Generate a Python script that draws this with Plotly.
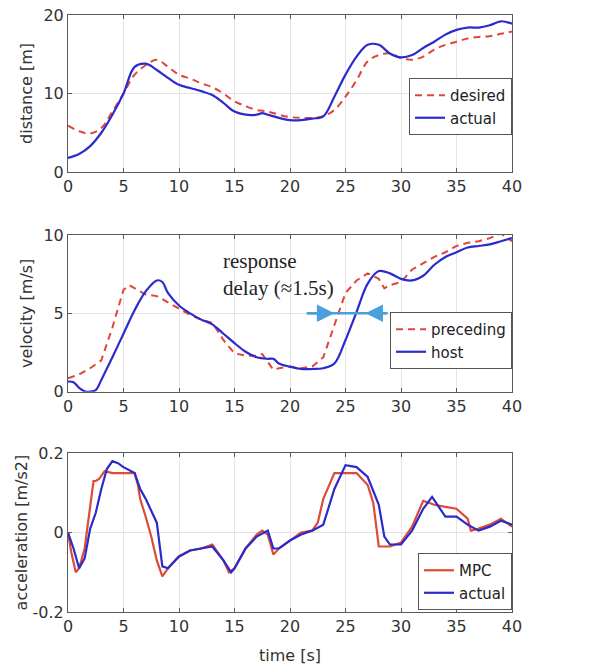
import plotly.graph_objects as go

# ---------------- data ----------------
t_dist = [0, 1, 2, 3, 4, 5, 6, 7, 8, 9, 10, 11, 12, 13, 14, 15, 16, 17, 17.5, 18, 19, 20,
          21, 22, 23, 24, 25, 26, 27, 28, 29, 30, 31, 32, 33, 34, 35, 36, 37, 38, 39, 40]
dist_actual = [1.8, 2.3, 3.3, 5.0, 7.3, 10.0, 13.4, 13.8, 13.0, 12.0, 11.1, 10.7, 10.3, 9.8,
               8.8, 7.7, 7.3, 7.3, 7.5, 7.3, 6.9, 6.6, 6.6, 6.8, 7.1, 9.6, 12.4, 14.7, 16.2,
               16.2, 15.1, 14.6, 14.9, 15.8, 16.6, 17.5, 18.1, 18.4, 18.4, 18.7, 19.2, 18.9]
t_des = [0, 1, 2, 3, 4, 5, 6, 7, 8, 9, 10, 11, 12, 13, 14, 15, 16, 17, 18, 19, 20,
         21, 22, 23, 24, 25, 26, 27, 28, 29, 30, 31, 32, 33, 34, 35, 36, 37, 38, 39, 40]
dist_desired = [5.9, 5.2, 4.9, 5.6, 7.7, 10.0, 12.4, 13.6, 14.3, 13.4, 12.4, 11.9, 11.3, 10.8,
                10.0, 9.0, 8.4, 7.9, 7.7, 7.3, 7.0, 6.9, 6.9, 7.1, 7.9, 9.6, 11.7, 14.1, 14.9,
                15.1, 14.5, 14.3, 14.7, 15.6, 16.2, 16.6, 17.0, 17.2, 17.3, 17.6, 17.9]

t_host = [0, 0.5, 1, 1.5, 2, 2.5, 3, 4, 5, 6, 7, 8, 8.5, 9, 10, 11, 12, 13, 14, 15, 16, 17,
          18, 18.5, 19, 20, 21, 22, 23, 24, 25, 26, 27, 28, 29, 30, 31, 32, 33, 34, 35, 36,
          37, 38, 39, 40]
vel_host = [0.65, 0.6, 0.25, 0.03, 0.0, 0.1, 0.75, 2.2, 3.7, 5.2, 6.4, 7.1, 7.0, 6.3, 5.5,
            5.0, 4.6, 4.3, 3.7, 3.1, 2.55, 2.2, 2.1, 2.1, 1.8, 1.6, 1.45, 1.45, 1.5, 1.8, 3.3,
            5.1, 6.9, 7.7, 7.55, 7.2, 7.1, 7.4, 8.1, 8.6, 8.9, 9.2, 9.3, 9.4, 9.6, 9.8]
t_prec = [0, 1, 2, 3, 4, 5, 5.5, 6, 7, 8, 9, 10, 11, 12, 13, 14, 15, 16, 17, 17.5, 18,
          18.5, 19, 20, 21, 22, 23, 24, 25, 26, 27, 28, 28.5, 29, 30, 31, 32, 33, 34, 35,
          36, 37, 38, 39, 40]
vel_prec = [0.85, 1.1, 1.5, 2.0, 4.1, 6.5, 6.8, 6.6, 6.2, 6.1, 5.7, 5.3, 4.9, 4.6, 4.4, 3.3,
            2.45, 2.3, 2.3, 2.4, 1.9, 1.4, 1.5, 1.6, 1.5, 1.6, 2.2, 4.3, 6.3, 7.1, 7.55, 7.2,
            6.6, 6.8, 7.0, 7.8, 8.2, 8.6, 8.9, 9.3, 9.5, 9.6, 9.8, 10.1, 9.6]

t_mpc = [0, 0.3, 0.7, 1, 1.5, 2, 2.3, 2.5, 2.8, 3.3, 4, 5, 6, 6.3, 6.5, 7, 7.5, 8, 8.5, 9,
         10, 11, 12, 13, 14, 14.5, 15, 16, 17, 17.5, 18, 18.5, 19, 20, 21, 22, 22.5, 23,
         24, 25, 26, 27, 27.5, 28, 29, 30, 31, 32, 33, 34, 35, 36, 36.3, 37, 38, 39, 40]
acc_mpc = [0.0, -0.05, -0.1, -0.09, -0.04, 0.06, 0.13, 0.13, 0.135, 0.155, 0.15, 0.15, 0.15,
           0.12, 0.085, 0.04, -0.01, -0.07, -0.11, -0.09, -0.06, -0.045, -0.04, -0.03,
           -0.07, -0.1, -0.09, -0.04, -0.005, 0.005, -0.005, -0.055, -0.04, -0.02, 0.0,
           0.005, 0.025, 0.085, 0.15, 0.15, 0.15, 0.12, 0.075, -0.035, -0.035, -0.025,
           0.015, 0.08, 0.07, 0.065, 0.06, 0.035, 0.005, 0.01, 0.02, 0.035, 0.015]
t_act = [0, 0.5, 1, 1.5, 2, 2.5, 3, 3.5, 4, 4.5, 5, 6, 6.5, 7, 8, 8.5, 9, 10, 11, 12, 13,
         14, 14.7, 15, 16, 17, 18, 18.5, 19, 20, 21, 22, 23, 24, 25, 26, 27, 28, 28.5, 29,
         30, 31, 32, 32.8, 33.5, 34, 35, 36, 37, 38, 39, 40]
acc_act = [0.0, -0.04, -0.09, -0.065, 0.01, 0.05, 0.11, 0.16, 0.18, 0.175, 0.165, 0.15,
           0.11, 0.085, 0.025, -0.085, -0.09, -0.06, -0.045, -0.04, -0.035, -0.07, -0.1,
           -0.09, -0.04, -0.01, 0.005, -0.04, -0.04, -0.02, -0.005, 0.005, 0.02, 0.11, 0.17,
           0.165, 0.14, 0.07, -0.01, -0.03, -0.03, 0.005, 0.06, 0.09, 0.06, 0.04, 0.04,
           0.02, 0.005, 0.015, 0.03, 0.02]

x_ticks = [0, 5, 10, 15, 20, 25, 30, 35, 40]
acc_ticks = [-0.2, 0, 0.2]
acc_ticktext = ["-0.2", "0", "0.2"]

BLUE = "#2b2bcc"
RED_D = "#e0453c"
RED = "#dd4a35"
FONT = "DejaVu Sans"

fig = go.Figure()
fig.add_trace(go.Scatter(x=t_des, y=dist_desired, name="desired", mode="lines",
                         line=dict(color=RED_D, width=2, dash="7px,5px", shape="spline"),
                         xaxis="x", yaxis="y", legend="legend"))
fig.add_trace(go.Scatter(x=t_dist, y=dist_actual, name="actual", mode="lines",
                         line=dict(color=BLUE, width=2.2, shape="spline"),
                         xaxis="x", yaxis="y", legend="legend"))
fig.add_trace(go.Scatter(x=t_prec, y=vel_prec, name="preceding", mode="lines",
                         line=dict(color=RED_D, width=2, dash="7px,5px"),
                         xaxis="x2", yaxis="y2", legend="legend2"))
fig.add_trace(go.Scatter(x=t_host, y=vel_host, name="host", mode="lines",
                         line=dict(color=BLUE, width=2.2, shape="spline"),
                         xaxis="x2", yaxis="y2", legend="legend2"))
fig.add_trace(go.Scatter(x=t_mpc, y=acc_mpc, name="MPC", mode="lines",
                         line=dict(color=RED, width=2.2),
                         xaxis="x3", yaxis="y3", legend="legend3"))
fig.add_trace(go.Scatter(x=t_act, y=acc_act, name="actual", mode="lines",
                         line=dict(color=BLUE, width=2.2),
                         xaxis="x3", yaxis="y3", legend="legend3"))

axis_common = dict(showgrid=True, gridcolor="#e4e4e4", gridwidth=1, showline=True,
                   linecolor="#5a5a5a", linewidth=1, mirror="ticks", ticks="inside",
                   ticklen=4, tickcolor="#5a5a5a", zeroline=False, automargin=False,
                   ticklabeloverflow="allow",
                   tickfont=dict(family=FONT, size=16, color="#333"))
xcommon = dict(axis_common, range=[0, 40], tickvals=x_ticks)
title_font = dict(family=FONT, size=16, color="#333")

legend_common = dict(bgcolor="white", bordercolor="#555", borderwidth=1,
                     font=dict(family=FONT, size=15, color="#222"),
                     xanchor="right", x=1, yanchor="top", itemwidth=30,
                     tracegroupgap=0)

fig.update_layout(
    width=593, height=671,
    margin=dict(l=68, r=81, t=15, b=59, autoexpand=False),
    paper_bgcolor="white", plot_bgcolor="white",
    showlegend=True,
    xaxis=dict(xcommon, domain=[0, 1], anchor="y"),
    xaxis2=dict(xcommon, domain=[0, 1], anchor="y2"),
    xaxis3=dict(xcommon, domain=[0, 1], anchor="y3",
                title=dict(text="time [s]", font=title_font, standoff=14)),
    yaxis=dict(axis_common, domain=[0.737, 1.0], range=[0, 20], tickvals=[0, 10, 20],
               anchor="x", title=dict(text="distance [m]", font=title_font, standoff=6)),
    yaxis2=dict(axis_common, domain=[0.369, 0.6315], range=[0, 10], tickvals=[0, 5, 10],
                anchor="x2", title=dict(text="velocity [m/s]", font=title_font, standoff=6)),
    yaxis3=dict(axis_common, domain=[0.0, 0.266], range=[-0.2, 0.2], tickvals=acc_ticks,
                ticktext=acc_ticktext, anchor="x3",
                title=dict(text="acceleration [m/s2]", font=title_font, standoff=0)),
    legend=dict(legend_common, y=0.8945),
    legend2=dict(legend_common, y=0.5025),
    legend3=dict(legend_common, y=0.0988),
)

# response delay annotation
ARROW_COLOR = "#4a9fdc"
delay_y = 5
fig.add_shape(type="line", xref="x2", yref="y2", x0=21.5, x1=28.8, y0=delay_y, y1=delay_y,
              line=dict(color=ARROW_COLOR, width=2.5))
fig.add_annotation(xref="x2", yref="y2", axref="x2", ayref="y2", x=24.0, y=delay_y,
                   ax=21.5, ay=delay_y, text="", showarrow=True, arrowhead=2,
                   arrowsize=1.4, arrowwidth=2.5, arrowcolor=ARROW_COLOR)
fig.add_annotation(xref="x2", yref="y2", axref="x2", ayref="y2", x=26.8, y=delay_y,
                   ax=28.8, ay=delay_y, text="", showarrow=True, arrowhead=2,
                   arrowsize=1.4, arrowwidth=2.5, arrowcolor=ARROW_COLOR)
fig.add_annotation(xref="x2", yref="y2", x=13.8, y=7.5, xanchor="left", yanchor="middle",
                   align="left", showarrow=False,
                   text="response<br>delay (≈1.5s)",
                   font=dict(family="Liberation Serif", size=21, color="#222"))

fig.write_html("out.html", config={"displayModeBar": False},
               post_script="document.body.style.margin='0';document.body.style.overflow='hidden';")
